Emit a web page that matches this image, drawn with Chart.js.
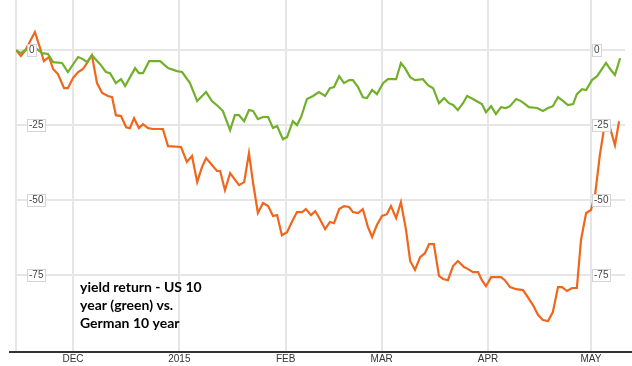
<!DOCTYPE html>
<html>
<head>
<meta charset="utf-8">
<script src="https://cdn.jsdelivr.net/npm/chart.js@4.4.1/dist/chart.umd.min.js"></script>
<style>
  html, body { margin: 0; padding: 0; background: #fff; }
  #wrap { width: 632px; height: 366px; position: relative; }
</style>
</head>
<body>
<div id="wrap"><canvas id="myChart"></canvas></div>
<script>
// yield return chart, days counted from Dec 1 2014

const xTickDays = [0, 31, 62, 90, 121, 151];
const xTickLabels = ['DEC', '2015', 'FEB', 'MAR', 'APR', 'MAY'];
const yTickValues = [0, -25, -50, -75];

// US 10 year (green)
const usDays = [-16.6, -15.2, -14.0, -10.5, -9.0, -7.3, -5.8, -3.2, -1.5, 1.5, 2.9, 4.1, 5.5, 7.9, 9.6, 10.8, 12.5, 14.0, 15.2, 18.1, 19.2, 20.4, 22.2, 25.4, 27.7, 30.3, 31.8, 34.1, 36.2, 38.8, 40.5, 42.3, 43.7, 45.8, 47.2, 48.4, 49.9, 51.3, 52.5, 53.9, 55.4, 56.9, 58.3, 59.5, 61.2, 62.4, 64.1, 65.3, 66.5, 68.2, 70.0, 71.7, 73.5, 74.9, 76.1, 77.6, 79.0, 80.5, 81.6, 83.1, 84.5, 85.7, 87.2, 88.6, 90.4, 91.8, 94.2, 95.6, 96.8, 98.3, 99.7, 102.0, 103.5, 105.0, 106.7, 108.2, 109.6, 110.8, 112.2, 113.7, 114.9, 116.6, 118.1, 119.2, 120.4, 121.9, 123.3, 124.8, 126.2, 127.4, 129.2, 130.6, 131.8, 132.9, 135.3, 137.0, 138.5, 139.9, 141.4, 142.9, 144.3, 145.8, 146.9, 148.4, 149.6, 151.3, 152.8, 155.4, 156.6, 158.0, 159.5];
const usValues = [0, -1, 0, 0.3, -1, -1.3, -4, -4.3, -7.3, -2.3, -3, -4, -1.7, -4.7, -7.3, -7.7, -11, -9.7, -12, -6, -7.7, -7.7, -3.7, -3.7, -6, -7, -7.3, -11, -17, -14, -17, -18.7, -20.3, -26.7, -21.7, -21.7, -23.7, -20, -20.3, -23, -22.3, -22.3, -26, -25.3, -29.7, -29, -23.7, -25, -22.3, -16.3, -15.3, -14, -15.3, -12.7, -12.3, -8.7, -11, -10, -10, -12.3, -15.7, -16, -13.3, -14.7, -11, -9.7, -9.7, -4.3, -6, -9, -10, -9.7, -11.7, -12.7, -17.7, -16, -17.7, -18.3, -20, -17.7, -15.3, -16.3, -17.3, -18, -20.7, -18.7, -21.3, -19, -19.3, -18.7, -16.3, -17, -18, -19, -19.3, -20.3, -19.3, -18.7, -15.7, -17, -18.3, -18, -14.7, -13, -13.3, -10, -8.7, -4.3, -6.3, -8.3, -2.7];

// German 10 year (orange)
const deDays = [-16.6, -15.2, -14.0, -11.1, -9.6, -8.5, -7.0, -5.8, -4.4, -2.6, -1.5, 0, 1.5, 2.9, 4.1, 5.5, 7.0, 8.5, 10.2, 11.4, 12.5, 14.0, 15.5, 16.6, 17.8, 19.2, 20.4, 21.9, 23.3, 26.2, 27.7, 31.5, 33.2, 34.7, 36.2, 37.6, 38.8, 40.5, 42.0, 42.9, 44.3, 45.8, 48.4, 49.9, 51.3, 52.5, 53.9, 55.4, 56.9, 58.3, 59.5, 60.9, 62.4, 63.8, 65.3, 66.8, 67.9, 69.4, 70.6, 71.7, 73.5, 74.9, 76.1, 77.6, 79.0, 80.5, 81.6, 83.1, 84.5, 86.0, 87.2, 88.6, 90.1, 91.5, 92.7, 94.2, 95.6, 97.1, 98.3, 99.7, 101.2, 102.6, 103.8, 105.2, 106.7, 107.9, 109.3, 110.8, 112.2, 114.0, 115.2, 116.6, 118.1, 119.2, 120.4, 121.9, 124.8, 125.9, 127.4, 129.2, 131.2, 132.4, 134.1, 135.6, 137.0, 138.5, 139.9, 141.4, 142.6, 144.0, 145.5, 146.9, 148.1, 149.6, 151.0, 152.2, 153.6, 154.8, 156.6, 158.0, 159.2];
const deValues = [0, -2, -0.3, 6, 0.7, -3.7, -2.3, -6.3, -8, -12.7, -12.7, -9.3, -7.3, -6.3, -4.3, -1.7, -11, -14.3, -15.3, -15.7, -21.7, -22, -25.7, -26, -22.7, -26, -24.7, -26, -26.3, -26.3, -32, -32.3, -37.3, -35.3, -44, -39, -36, -38.3, -40.3, -40.3, -46.7, -41, -45, -44, -34.3, -44.3, -54.3, -51, -52, -55.3, -55, -61.7, -60.7, -57.3, -54, -54, -53, -55, -53.7, -55.7, -59.7, -57.3, -57.7, -53, -52, -52.3, -54, -54.3, -53, -59, -62.3, -58.3, -55.3, -54.7, -52, -56, -50.7, -60, -70.3, -73.3, -69, -67.7, -64.7, -64.7, -75.3, -76.3, -76.7, -72, -70.3, -72.3, -73, -74, -74, -76.7, -78.7, -75.7, -75.7, -76.7, -79, -79.7, -80, -82, -85, -88.3, -90, -90.3, -87.3, -79, -79, -80.3, -79.3, -79.3, -63.3, -54.3, -53.3, -48.3, -35, -26.3, -26, -31.7, -23.7];

const noteLines = ['yield return - US 10', 'year (green) vs.', 'German 10 year'];

const usPoints = usDays.map((d, i) => ({ x: d, y: usValues[i] }));
const dePoints = deDays.map((d, i) => ({ x: d, y: deValues[i] }));

// boxed value labels on the left and right, plus the note and base line
const extras = {
    id: 'extras',
    afterDatasetsDraw(chart) {
        const ctx = chart.ctx;
        const area = chart.chartArea;
        const yScale = chart.scales.y;
        const xScale = chart.scales.x;
        const rightX = Math.round(xScale.getPixelForValue(151)) + 1;

        ctx.save();
        ctx.font = '10px Arial, "Liberation Sans", sans-serif';
        ctx.textBaseline = 'middle';
        ctx.textAlign = 'left';
        yTickValues.forEach(v => {
            const y = Math.round(yScale.getPixelForValue(v));
            const label = String(v);
            const w = Math.ceil(ctx.measureText(label).width) + 3;
            [area.left + 11, rightX].forEach(x => {
                ctx.fillStyle = '#fff';
                ctx.fillRect(x, y - 6, w, 12);
                ctx.strokeStyle = '#d4d4d4';
                ctx.lineWidth = 1;
                ctx.strokeRect(x + 0.5, y - 5.5, w, 12);
                ctx.fillStyle = '#444';
                ctx.fillText(label, x + 2, y + 0.5);
            });
        });

        ctx.fillStyle = '#000';
        ctx.font = 'bold 14px Lato, "Open Sans", sans-serif';
        ctx.textBaseline = 'middle';
        noteLines.forEach((line, i) => {
            ctx.fillText(line, 80, 287 + i * 18);
        });

        ctx.strokeStyle = '#333';
        ctx.lineWidth = 2;
        ctx.beginPath();
        ctx.moveTo(9, area.bottom + 1);
        ctx.lineTo(632, area.bottom + 1);
        ctx.stroke();
        ctx.restore();
    }
};

const ctx = document.getElementById('myChart').getContext('2d');
const myChart = new Chart(ctx, {
    type: 'line',
    data: {
        datasets: [
            {
                label: 'US 10 year',
                data: usPoints,
                borderColor: '#72b02c',
                borderWidth: 2.2,
                pointRadius: 0,
                tension: 0,
                fill: false
            },
            {
                label: 'German 10 year',
                data: dePoints,
                borderColor: '#f0661b',
                borderWidth: 2.2,
                pointRadius: 0,
                tension: 0,
                fill: false
            }
        ]
    },
    options: {
        responsive: true,
        maintainAspectRatio: false,
        animation: false,
        layout: { padding: { left: 16, right: 7, top: 0, bottom: 0 } },
        plugins: {
            legend: { display: false },
            tooltip: { enabled: false }
        },
        scales: {
            x: {
                type: 'linear',
                min: -16.62,
                max: 160.93,
                afterBuildTicks: scale => {
                    scale.ticks = [-16.62].concat(xTickDays).map(v => ({ value: v }));
                },
                afterFit: scale => { scale.height = 15; },
                ticks: {
                    autoSkip: false,
                    maxRotation: 0,
                    padding: 2,
                    color: '#333',
                    font: { family: 'Arial, "Liberation Sans", sans-serif', size: 10 },
                    callback: v => {
                        const i = xTickDays.indexOf(v);
                        return i >= 0 ? xTickLabels[i] : '';
                    }
                },
                grid: { color: '#e6e6e6', lineWidth: 2, drawTicks: false },
                border: { display: false }
            },
            y: {
                min: -100.3,
                max: 16.7,
                afterBuildTicks: scale => {
                    scale.ticks = yTickValues.map(v => ({ value: v }));
                },
                afterFit: scale => { scale.width = 0; },
                ticks: { display: false },
                grid: { color: '#e6e6e6', lineWidth: 2, drawTicks: false },
                border: { display: false }
            }
        }
    },
    plugins: [extras]
});
</script>
</body>
</html>
